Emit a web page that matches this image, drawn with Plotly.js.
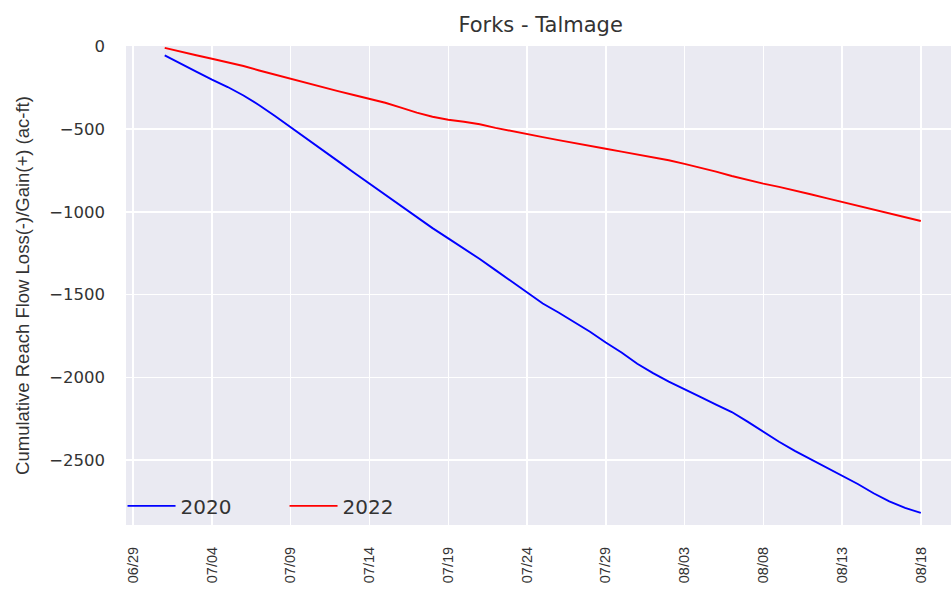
<!DOCTYPE html>
<html>
<head>
<meta charset="utf-8">
<script src="https://cdn.plot.ly/plotly-3.0.1.min.js"></script>
<style>html,body{margin:0;padding:0;background:#fff;}#chart{width:951px;height:591px;}</style>
</head>
<body>
<div id="chart"></div>
<script>
// Dates (month/day, shared dummy year) 07/01 .. 08/18
const dates = [
 "2022-07-01","2022-07-02","2022-07-03","2022-07-04","2022-07-05","2022-07-06","2022-07-07","2022-07-08","2022-07-09","2022-07-10",
 "2022-07-11","2022-07-12","2022-07-13","2022-07-14","2022-07-15","2022-07-16","2022-07-17","2022-07-18","2022-07-19","2022-07-20",
 "2022-07-21","2022-07-22","2022-07-23","2022-07-24","2022-07-25","2022-07-26","2022-07-27","2022-07-28","2022-07-29","2022-07-30",
 "2022-07-31","2022-08-01","2022-08-02","2022-08-03","2022-08-04","2022-08-05","2022-08-06","2022-08-07","2022-08-08","2022-08-09",
 "2022-08-10","2022-08-11","2022-08-12","2022-08-13","2022-08-14","2022-08-15","2022-08-16","2022-08-17","2022-08-18"
];
const series2020 = [
 -54,-105,-152,-200,-245,-296,-355,-420,-487,-558,
 -625,-693,-762,-829,-898,-965,-1033,-1098,-1160,-1222,
 -1285,-1352,-1418,-1484,-1554,-1608,-1664,-1725,-1790,-1850,
 -1918,-1975,-2026,-2070,-2118,-2165,-2210,-2268,-2329,-2390,
 -2445,-2495,-2540,-2590,-2645,-2701,-2750,-2790,-2820
];
const series2022 = [
 -8,-32,-53,-74,-96,-118,-145,-170,-195,-222,
 -248,-270,-293,-316,-340,-370,-400,-425,-443,-455,
 -470,-492,-512,-530,-548,-566,-582,-600,-618,-636,
 -652,-668,-688,-710,-732,-757,-783,-808,-829,-849,
 -870,-893,-917,-940,-965,-990,-1013,-1035,-1055
];
const seriesNames = ["2020","2022"];
const yTickVals = [0,-500,-1000,-1500,-2000,-2500];
const yTickText = ["0","\u2212500","\u22121000","\u22121500","\u22122000","\u22122500"];

const traces = [
 {x: dates, y: series2020, name: seriesNames[0], type: "scatter", mode: "lines", line: {color: "#0000FF", width: 1.9}},
 {x: dates, y: series2022, name: seriesNames[1], type: "scatter", mode: "lines", line: {color: "#FF0000", width: 1.9}}
];

const layout = {
 width: 951, height: 591,
 margin: {l: 126, r: 0, t: 46, b: 66},
 paper_bgcolor: "#FFFFFF",
 plot_bgcolor: "#EAEAF2",
 font: {family: "Liberation Sans, Arial, sans-serif", color: "#333333"},
 title: {text: "Forks - Talmage", x: 0.5685, xanchor: "center", y: 0.958, yanchor: "middle",
   font: {family: "DejaVu Sans, sans-serif", size: 21, color: "#333333"}},
 showlegend: true,
 legend: {orientation: "h", x: -0.0042, xanchor: "left", y: 0.04, yanchor: "middle",
   bgcolor: "rgba(0,0,0,0)", font: {family: "DejaVu Sans, sans-serif", size: 20, color: "#333333"},
   entrywidth: 99, entrywidthmode: "pixels", itemwidth: 48},
 xaxis: {
   type: "date",
   range: ["2022-06-28 13:00", "2022-08-19 22:00"],
   tick0: "2022-06-29", dtick: 432000000,
   tickformat: "%m/%d", tickangle: -90,
   tickfont: {family: "Liberation Sans, Arial, sans-serif", size: 14.5, color: "#333333"},
   showgrid: true, gridcolor: "#FFFFFF", gridwidth: 1.5,
   zeroline: false, showline: false, ticks: "", ticklabelstandoff: 18
 },
 yaxis: {
   range: [-2893, 3],
   tickvals: yTickVals, ticktext: yTickText,
   tickfont: {family: "DejaVu Sans, sans-serif", size: 16.5, color: "#333333"},
   showgrid: true, gridcolor: "#FFFFFF", gridwidth: 1.5,
   zeroline: false, showline: false, ticks: "", ticklabelstandoff: 20,
   title: {text: "Cumulative Reach Flow Loss(-)/Gain(+) (ac-ft)", standoff: 14,
     font: {family: "Liberation Sans, Arial, sans-serif", size: 18.5, color: "#333333"}}
 }
};

Plotly.newPlot("chart", traces, layout, {staticPlot: true, displayModeBar: false});
</script>
</body>
</html>
